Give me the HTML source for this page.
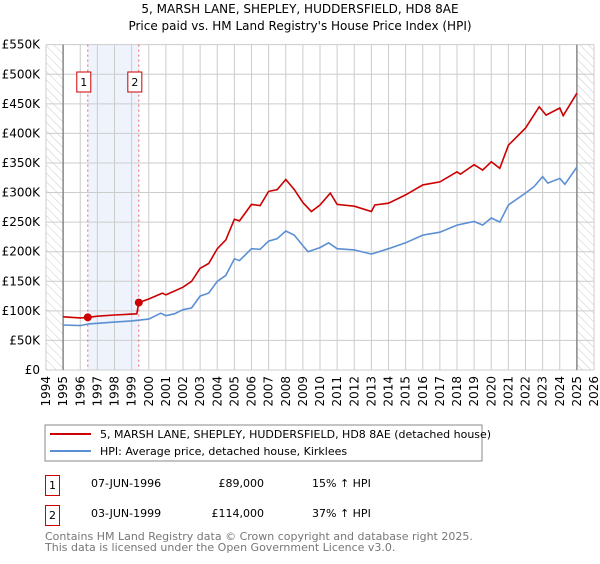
<!DOCTYPE html>
<html><head><meta charset="utf-8"><style>
body{margin:0;background:#fff;font-family:"DejaVu Sans","Liberation Sans",sans-serif;}
svg text{font-family:"DejaVu Sans","Liberation Sans",sans-serif;}
</style></head><body>
<svg id="chart" width="600" height="560" viewBox="0 0 600 560" xmlns="http://www.w3.org/2000/svg">
<defs><pattern id="hatch" width="6" height="6" patternUnits="userSpaceOnUse" patternTransform="rotate(-45)"><line x1="0" y1="0" x2="0" y2="6" stroke="#ccc" stroke-width="1"/></pattern></defs>
<text x="300" y="13" text-anchor="middle" font-size="12">5, MARSH LANE, SHEPLEY, HUDDERSFIELD, HD8 8AE</text>
<text x="300" y="30" text-anchor="middle" font-size="12">Price paid vs. HM Land Registry's House Price Index (HPI)</text>
<g id="grid"></g><g id="marks"></g><g id="axes"></g>
<rect x="45" y="425" width="437" height="36" fill="none" stroke="#888"/>
<line x1="50" y1="434" x2="91" y2="434" stroke="#cc0000" stroke-width="2"/>
<text x="100" y="438" font-size="11">5, MARSH LANE, SHEPLEY, HUDDERSFIELD, HD8 8AE (detached house)</text>
<line x1="50" y1="451" x2="91" y2="451" stroke="#5b8fd4" stroke-width="2"/>
<text x="100" y="455" font-size="11">HPI: Average price, detached house, Kirklees</text>
<g font-size="11">
<rect x="45.5" y="475.5" width="14" height="20" fill="#fff" stroke="#cc0000"/><text x="52.5" y="489" text-anchor="middle">1</text>
<text x="91" y="487">07-JUN-1996</text><text x="264" y="487" text-anchor="end">£89,000</text><text x="312" y="487">15% ↑ HPI</text>
<rect x="45.5" y="505.5" width="14" height="20" fill="#fff" stroke="#cc0000"/><text x="52.5" y="519" text-anchor="middle">2</text>
<text x="91" y="517">03-JUN-1999</text><text x="264" y="517" text-anchor="end">£114,000</text><text x="312" y="517">37% ↑ HPI</text>
</g>
<text x="45" y="540" font-size="11" fill="#777">Contains HM Land Registry data © Crown copyright and database right 2025.</text>
<text x="45" y="551" font-size="11" fill="#777">This data is licensed under the Open Government Licence v3.0.</text>
</svg>
<script>
const hpiYears=[1995,1996,1996.5,1997,1998,1999,2000,2000.7,2001,2001.5,2002,2002.5,2003,2003.5,2004,2004.5,2005,2005.3,2006,2006.5,2007,2007.5,2008,2008.5,2009,2009.3,2010,2010.5,2011,2012,2013,2014,2015,2016,2017,2018,2019,2019.5,2020,2020.5,2021,2022,2022.5,2023,2023.3,2024,2024.3,2025];
const hpiValues=[76,75,78,79,81,83,86,96,92,95,102,105,125,130,150,160,188,185,205,204,218,222,235,228,210,200,207,215,205,203,196,205,215,228,233,245,251,245,257,250,279,299,310,327,316,324,314,343];
const propYears=[1995,1996,1996.44,1997,1998,1999.3,1999.42,2000,2000.8,2001,2002,2002.5,2003,2003.5,2004,2004.5,2005,2005.3,2006,2006.5,2007,2007.5,2008,2008.5,2009,2009.5,2010,2010.6,2011,2012,2013,2013.2,2014,2015,2016,2017,2018,2018.2,2019,2019.5,2020,2020.5,2021,2022,2022.8,2023.2,2024,2024.2,2025];
const propValues=[90,88,89,91,93,95,114,120,130,127,140,150,172,180,205,220,255,252,280,278,302,305,322,305,283,268,279,299,280,277,268,279,282,296,313,318,335,331,347,338,352,341,380,409,445,431,443,430,468];
const saleYears=[1996.44,1999.42];
const saleValues=[89,114];
const yTicks=[0,50,100,150,200,250,300,350,400,450,500,550];
const yTickLabels=["£0","£50K","£100K","£150K","£200K","£250K","£300K","£350K","£400K","£450K","£500K","£550K"];
const xTicks=[1994,1995,1996,1997,1998,1999,2000,2001,2002,2003,2004,2005,2006,2007,2008,2009,2010,2011,2012,2013,2014,2015,2016,2017,2018,2019,2020,2021,2022,2023,2024,2025,2026];
const NS="http://www.w3.org/2000/svg";
const X=y=>46+(y-1994)*17.125, Y=v=>370-v*0.5915;
function mk(tag,attrs,parent){const e=document.createElementNS(NS,tag);for(const k in attrs)e.setAttribute(k,attrs[k]);document.getElementById(parent).appendChild(e);return e;}
let e;
e=mk('rect',{x:X(1996.44),y:Y(550),width:X(1999.42)-X(1996.44),height:Y(0)-Y(550),fill:'#eef3fc'},'grid');


e=mk('rect',{x:X(1994),y:Y(550),width:X(1995)-X(1994),height:Y(0)-Y(550),fill:'url(#hatch)'},'grid');


e=mk('rect',{x:X(2025),y:Y(550),width:X(2026)-X(2025),height:Y(0)-Y(550),fill:'url(#hatch)'},'grid');


yTicks.forEach((t,i)=>{
 e=mk('line',{x1:X(1994),x2:X(2026),y1:Y(t),y2:Y(t),stroke:'#ccc'},'grid');
 
 
 e=mk('text',{x:40,y:Y(t)+4,'text-anchor':'end','font-size':12},'axes');e.textContent=yTickLabels[i];
 
 
});
xTicks.forEach(t=>{
 e=mk('line',{x1:X(t),x2:X(t),y1:Y(550),y2:Y(0),stroke:'#ccc'},'grid');
 
 
 e=mk('text',{x:0,y:0,'text-anchor':'end','font-size':12,transform:`translate(${X(t)+4},376) rotate(-90)`},'axes');e.textContent=t;
 
 
});
[1995,2025].forEach(t=>{
 e=mk('line',{x1:X(t),x2:X(t),y1:Y(550),y2:Y(0),stroke:'#888','stroke-width':1.5},'grid');
 
 
});
saleYears.forEach((t,i)=>{
 e=mk('line',{x1:X(t),x2:X(t),y1:Y(550),y2:Y(0),stroke:'#f06060','stroke-dasharray':'2,3'},'grid');
 
 
 const bx=X(t)-7-([4,3][i])*(i?1:1)+(i?-1:0);
 e=mk('rect',{x:bx,y:72,width:14,height:20,fill:'#fff',stroke:'#cc0000'},'marks');
 
 
 e=mk('text',{x:bx+7,y:86,'text-anchor':'middle','font-size':11},'marks');e.textContent=String(i+1);
 
 
});
function path(xs,vs){return xs.map((x,i)=>(i?'L':'M')+X(x).toFixed(1)+','+Y(vs[i]).toFixed(1)).join('');}
e=mk('path',{d:path(hpiYears,hpiValues),fill:'none',stroke:'#5b8fd4','stroke-width':1.6},'marks');


e=mk('path',{d:path(propYears,propValues),fill:'none',stroke:'#cc0000','stroke-width':1.6},'marks');


saleYears.forEach((t,i)=>{
 e=mk('circle',{cx:X(t),cy:Y(saleValues[i]),r:4,fill:'#cc0000'},'marks');
 
 
});
</script>
</body></html>
